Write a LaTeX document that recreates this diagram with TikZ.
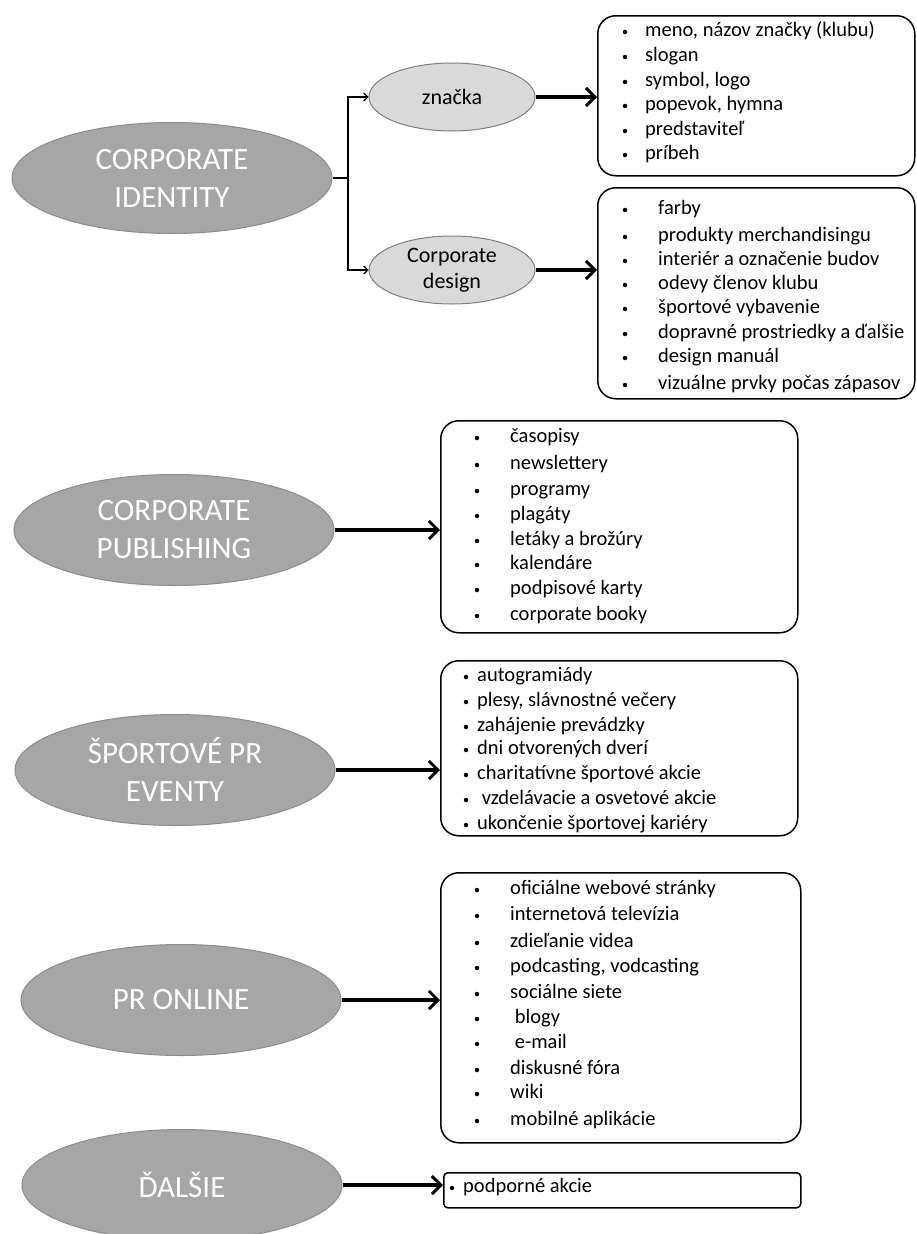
\documentclass[tikz,border=0pt]{standalone}
\usepackage{fontspec}
\setmainfont{Carlito}
\usetikzlibrary{arrows.meta,shapes.geometric}
\definecolor{biggray}{HTML}{A6A6A6}
\definecolor{bigedge}{HTML}{8C8C8C}
\definecolor{smallgray}{HTML}{D9D9D9}
\definecolor{smalledge}{HTML}{7F7F7F}
\newcommand\mylist[4]{%
  \foreach \t/\yy [count=\i] in {#4} {%
    \node[bul] (#1bul\i) at (#2,\yy) {};
    \node[itm] (#1t\i) at (#3,\yy) {\t};
  }%
}
\begin{document}
\begin{tikzpicture}[x=1pt,y=-1pt,
 bigell/.style={ellipse, draw=bigedge, fill=biggray, line width=1pt, minimum width=320pt, minimum height=111pt, inner sep=0pt, align=center, text=white, font=\fontsize{31}{38}\selectfont},
 smallell/.style={ellipse, draw=smalledge, fill=smallgray, line width=1pt, minimum width=166pt, minimum height=68pt, inner sep=0pt, align=center, font=\fontsize{22}{26}\selectfont},
 listbox/.style={draw, rounded corners=18pt, line width=1.5pt, inner sep=0pt, anchor=north west},
 bul/.style={circle, fill=black, inner sep=0pt, minimum size=4.5pt},
 itm/.style={inner sep=0pt, anchor=west, text height=13pt, text depth=4pt, font=\fontsize{20.5}{20.5}\selectfont},
 bigarrow/.style={-{Straight Barb[length=9pt,width=18pt,line width=3pt]}, line width=3.5pt},
 smallarrow/.style={-{Straight Barb[length=4pt,width=8pt]}, line width=1.2pt}
]
\useasboundingbox (0,0) rectangle (916,1234);
\fill[white] (0,0) rectangle (916,1234);

% main ellipses
\node[bigell] (ci) at (172,178) {CORPORATE\\IDENTITY};
\node[bigell] (cp) at (174,530) {CORPORATE\\PUBLISHING};
\node[bigell] (sp) at (175,770) {ŠPORTOVÉ PR\\EVENTY};
\node[bigell] (po) at (181,1000) {PR ONLINE};
\node[bigell] (da) at (182,1185) {ĎALŠIE};

% sub ellipses
\node[smallell] (zn) at (452,97) {značka};
\node[smallell] (cd) at (452,270) {Corporate\\design};

% boxes
\node[listbox, minimum width=317pt, minimum height=160pt] (b1) at (597,15) {};
\node[listbox, minimum width=317pt, minimum height=211pt] (b2) at (597,187) {};
\node[listbox, minimum width=357pt, minimum height=212pt] (b3) at (440,420) {};
\node[listbox, minimum width=357pt, minimum height=175pt] (b4) at (440,660) {};
\node[listbox, minimum width=360pt, minimum height=270pt] (b5) at (440,872) {};
\node[listbox, rounded corners=4pt, minimum width=357pt, minimum height=35pt] (b6) at (443,1172) {};

% connectors
\coordinate (j) at (348,178);
\draw[line width=1.2pt] (ci.east) -- (j);
\draw[smallarrow] (j) |- (zn.west);
\draw[smallarrow] (j) |- (cd.west);
\draw[bigarrow] (zn.east) -- (zn.east -| b1.west);
\draw[bigarrow] (cd.east) -- (cd.east -| b2.west);
\draw[bigarrow] (cp.east) -- (cp.east -| b3.west);
\draw[bigarrow] (sp.east) -- (sp.east -| b4.west);
\draw[bigarrow] (po.east) -- (po.east -| b5.west);
\draw[bigarrow] (da.east) -- (da.east -| b6.west);

% list items
\mylist{a}{625}{645}{{meno, názov značky (klubu)}/32, slogan/57, {symbol, logo}/82, {popevok, hymna}/106, predstaviteľ/131, príbeh/155}
\mylist{b}{625}{658}{farby/210, produkty merchandisingu/237, interiér a označenie budov/261, odevy členov klubu/285, športové vybavenie/309, dopravné prostriedky a ďalšie/334, design manuál/358, vizuálne prvky počas zápasov/385}
\mylist{c}{477}{510}{časopisy/438, newslettery/465, programy/491, plagáty/516, letáky a brožúry/541, kalendáre/565, podpisové karty/590, corporate booky/616}
\mylist{d}{466}{477}{autogramiády/677, {plesy, slávnostné večery}/702, zahájenie prevádzky/727, dni otvorených dverí/750, charitatívne športové akcie/775, \ vzdelávacie a osvetové akcie/800, ukončenie športovej kariéry/825}
\mylist{e}{477}{510}{oficiálne webové stránky/890, internetová televízia/916, zdieľanie videa/943, {podcasting, vodcasting}/968, sociálne siete/994, \ blogy/1019, \ e-mail/1044, diskusné fóra/1070, wiki/1094, mobilné aplikácie/1121}
\mylist{f}{452}{463}{podporné akcie/1188}
\end{tikzpicture}
\end{document}
